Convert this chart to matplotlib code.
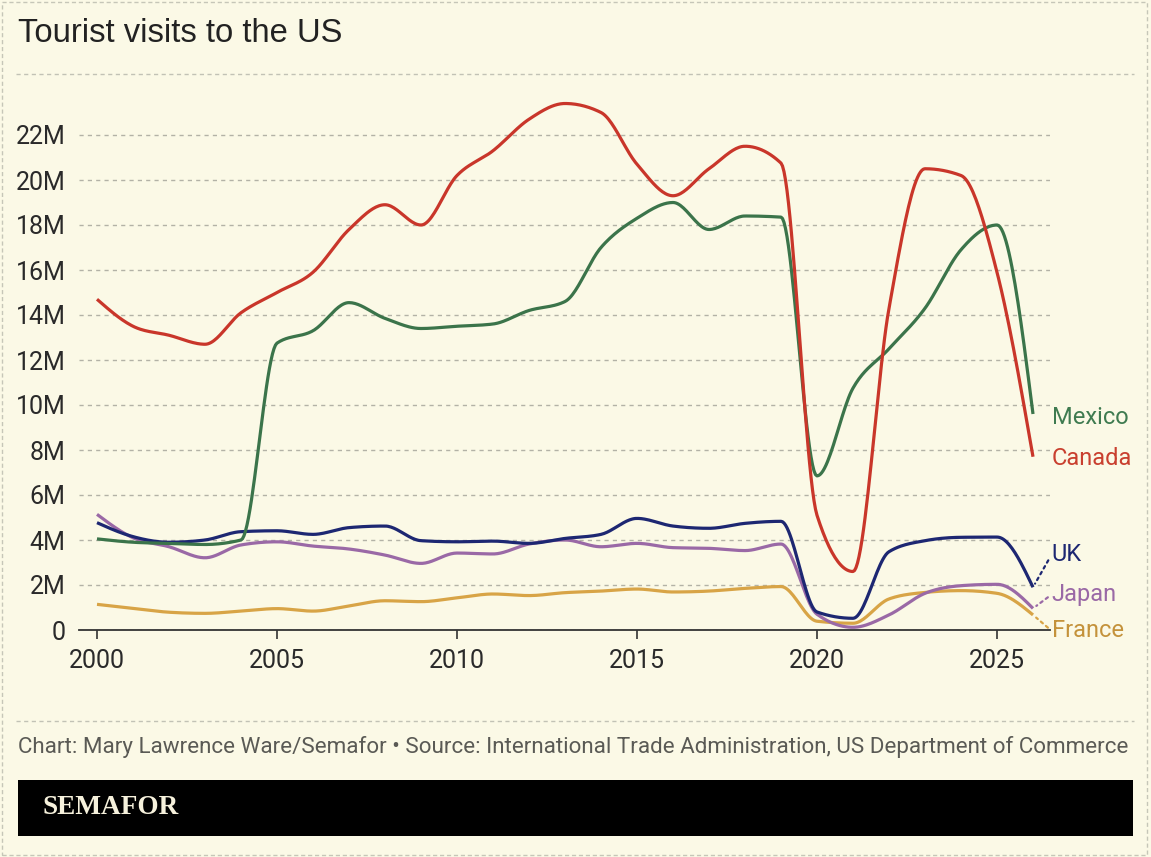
import numpy as np
import matplotlib
matplotlib.use('Agg')
import matplotlib.pyplot as plt
from matplotlib import font_manager
from matplotlib.patches import Rectangle
from matplotlib.lines import Line2D

# ---- data (millions of visits) ----
years = list(range(2000, 2027))
canada = [14.7, 13.5, 13.1, 12.7, 14.1, 15.0, 15.9, 17.8, 18.9, 18.0, 20.2, 21.3, 22.7, 23.4,
          23.0, 20.7, 19.3, 20.5, 21.5, 20.75, 5.1, 2.6, 14.3, 20.5, 20.2, 15.9, 7.7]
mexico = [4.05, 3.9, 3.85, 3.8, 4.0, 12.75, 13.3, 14.55, 13.85, 13.4, 13.5, 13.6, 14.2, 14.6,
          17.0, 18.3, 19.0, 17.8, 18.4, 18.35, 6.85, 10.75, 12.5, 14.3, 16.9, 18.0, 9.6]
uk = [4.77, 4.15, 3.9, 4.0, 4.37, 4.41, 4.25, 4.55, 4.62, 3.97, 3.92, 3.95, 3.85, 4.07,
      4.25, 4.96, 4.62, 4.52, 4.74, 4.83, 0.8, 0.52, 3.48, 3.97, 4.12, 4.13, 1.9]
japan = [5.14, 4.1, 3.7, 3.21, 3.78, 3.92, 3.73, 3.6, 3.33, 2.96, 3.42, 3.38, 3.82, 4.0,
         3.7, 3.85, 3.66, 3.63, 3.53, 3.82, 0.7, 0.12, 0.67, 1.63, 1.97, 2.03, 0.96]
france = [1.14, 0.96, 0.79, 0.74, 0.84, 0.95, 0.84, 1.07, 1.3, 1.26, 1.43, 1.6, 1.53, 1.66,
          1.73, 1.82, 1.69, 1.73, 1.85, 1.93, 0.39, 0.3, 1.38, 1.67, 1.75, 1.63, 0.67]

yticks = [0, 2, 4, 6, 8, 10, 12, 14, 16, 18, 20, 22]
ytick_labels = ['0'] + [f'{v}M' for v in yticks[1:]]
xticks = [2000, 2005, 2010, 2015, 2020, 2025]

title = 'Tourist visits to the US'
footer = ('Chart: Mary Lawrence Ware/Semafor \u2022 Source: International Trade '
          'Administration, US Department of Commerce')

BG = '#fbf9e6'
W, H = 1151, 857

names = {f.name for f in font_manager.fontManager.ttflist}
COND = 'Liberation Sans Narrow' if 'Liberation Sans Narrow' in names else 'Roboto'


def monotone(x, y, n=24):
    # monotone cubic (same idea as d3.curveMonotoneX)
    x = np.asarray(x, float)
    y = np.asarray(y, float)
    h = np.diff(x)
    s = np.diff(y) / h
    t = np.zeros_like(y)
    sg = lambda v: -1.0 if v < 0 else 1.0
    for i in range(1, len(y) - 1):
        h0, h1, s0, s1 = h[i - 1], h[i], s[i - 1], s[i]
        p = (s0 * h1 + s1 * h0) / (h0 + h1)
        t[i] = (sg(s0) + sg(s1)) * min(abs(s0), abs(s1), 0.5 * abs(p))
    t[0] = (3 * s[0] - t[1]) / 2
    t[-1] = (3 * s[-1] - t[-2]) / 2
    xs, ys = [], []
    u = np.linspace(0, 1, n, endpoint=False)
    for i in range(len(y) - 1):
        hh = h[i]
        h00 = 2 * u**3 - 3 * u**2 + 1
        h10 = u**3 - 2 * u**2 + u
        h01 = -2 * u**3 + 3 * u**2
        h11 = u**3 - u**2
        xs.append(x[i] + u * hh)
        ys.append(h00 * y[i] + h10 * hh * t[i] + h01 * y[i + 1] + h11 * hh * t[i + 1])
    xs.append([x[-1]])
    ys.append([y[-1]])
    return np.concatenate(xs), np.concatenate(ys)


def fx(px):
    return px / W


def fy(py):
    return 1 - py / H


fig = plt.figure(figsize=(W / 100, H / 100), dpi=100, facecolor=BG)

# outer dashed frame and separators
fig.add_artist(Rectangle((fx(2), fy(855)), fx(1147) - fx(2), fy(2) - fy(855),
                         transform=fig.transFigure, fill=False, ec='#c6c6b8',
                         lw=1, ls=(0, (3, 2))))
for yy in (74, 721):
    fig.add_artist(Line2D([fx(16), fx(1134)], [fy(yy), fy(yy)], transform=fig.transFigure,
                          color='#c2c2b5', lw=1, ls=(0, (3, 2.5))))

ax = fig.add_axes([fx(79), fy(630), fx(1050) - fx(79), fy(90) - fy(630)])
ax.set_facecolor(BG)
ax.set_xlim(2000 - 18 / 36, 2000 + (1050 - 97) / 36)
ax.set_ylim(0, 24)
for sp in ['top', 'right', 'left']:
    ax.spines[sp].set_visible(False)
ax.spines['bottom'].set_color('#333333')
ax.spines['bottom'].set_linewidth(1.3)
ax.spines['bottom'].set_zorder(4)

ax.set_yticks(yticks)
ax.set_yticklabels(ytick_labels)
ax.set_xticks(xticks)
ax.tick_params(axis='y', length=0, pad=9.5, labelsize=18, labelcolor='#2a2a2a')
ax.tick_params(axis='x', length=6.5, width=1.2, color='#333333', pad=7,
               labelsize=18, labelcolor='#2a2a2a')
for lab in ax.get_xticklabels() + ax.get_yticklabels():
    lab.set_fontfamily(COND)
ax.yaxis.grid(True, color='#b3b2a6', lw=1, ls=(0, (3, 3)))
ax.set_axisbelow(True)

series = [
    ('France', france, '#d8a446', '#c4923b', -16, True),
    ('Japan', japan, '#9a69a6', '#9a69a6', 14, True),
    ('UK', uk, '#1d2772', '#1d2772', 33, True),
    ('Mexico', mexico, '#3b744a', '#3f7b50', -3, False),
    ('Canada', canada, '#c9362a', '#c9402f', -2, False),
]

for name, vals, lc, tc, dy, leader in series:
    sx, sy = monotone(years, vals)
    ax.plot(sx, sy, color=lc, lw=2.3, solid_capstyle='butt', solid_joinstyle='round',
            clip_on=False, zorder=5)
    kw = {}
    if leader:
        kw['arrowprops'] = dict(arrowstyle='-', color=lc, lw=1.6, ls=(0, (1.2, 1.8)),
                                shrinkA=1, shrinkB=3, relpos=(0, 0.5))
    ax.annotate(name, xy=(years[-1], vals[-1]), xytext=(13.5, dy * 0.72),
                textcoords='offset points', ha='left', va='center', color=tc,
                fontsize=17, fontfamily=COND, annotation_clip=False, **kw)

# title, footer, logo bar
t_title = fig.text(fx(18), fy(34), title, fontsize=21, color='#222222',
                   fontfamily='Liberation Sans', va='center', ha='left')
t_foot = fig.text(fx(18), fy(747), footer, fontsize=15, color='#5a5a55',
                  fontfamily=COND, va='center', ha='left')
fig.add_artist(Rectangle((fx(18), fy(836)), fx(1133) - fx(18), fy(780) - fy(836),
                         transform=fig.transFigure, color='black', lw=0))
t_logo = fig.text(fx(42), fy(808), 'SEMAFOR', fontsize=20, color='#f6f1dc',
                  fontfamily='Liberation Serif', fontweight='bold', va='center', ha='left')

# fit text widths to the reference
fig.canvas.draw()
r = fig.canvas.get_renderer()
for t, target in ((t_title, 324), (t_foot, 1112), (t_logo, 136)):
    w = t.get_window_extent(r).width
    t.set_fontsize(t.get_fontsize() * target / w)

fig.savefig('out.png', dpi=100, facecolor=BG)
